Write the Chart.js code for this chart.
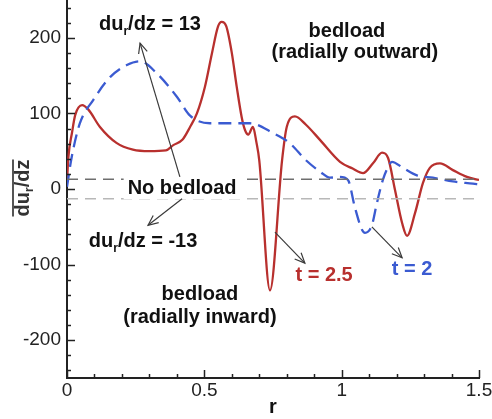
<!DOCTYPE html>
<html><head><meta charset="utf-8">
<script src="https://cdn.jsdelivr.net/npm/chart.js@4"></script>
<style>html,body{margin:0;padding:0;background:#fff}#wrap{width:492px;height:419px;position:relative}</style>
</head><body><div id="wrap"><canvas id="c" width="492" height="419"></canvas></div>
<script>
// ---- data ----
const rT25 = [0, 0.005, 0.018, 0.03, 0.055, 0.078, 0.12, 0.18, 0.24, 0.3, 0.36, 0.387, 0.42, 0.448, 0.473, 0.502, 0.528, 0.55, 0.563, 0.58, 0.6, 0.618, 0.636, 0.648, 0.66, 0.677, 0.69, 0.70, 0.739, 0.783, 0.80, 0.83, 0.87, 0.921, 0.994, 1.04, 1.078, 1.114, 1.147, 1.169, 1.194, 1.22, 1.238, 1.267, 1.296, 1.321, 1.358, 1.405, 1.456, 1.5];
const vT25 = [9, 42, 74, 98, 111, 105, 82, 61, 52, 50, 51, 58, 65, 82, 100, 135, 180, 215, 221, 215, 180, 135, 95, 78, 72, 82, 61, 38, -134, 38, 82, 96, 85, 65, 36, 27, 21, 34, 48, 41, -1, -45, -62, -32, 8, 28, 34, 25, 16, 12];
const rT2 = [0, 0.017, 0.047, 0.096, 0.157, 0.218, 0.265, 0.327, 0.4, 0.448, 0.52, 0.6, 0.666, 0.75, 0.81, 0.87, 0.921, 0.957, 0.994, 1.023, 1.048, 1.074, 1.085, 1.11, 1.128, 1.15, 1.169, 1.183, 1.223, 1.274, 1.332, 1.405, 1.478, 1.5];
const vT2 = [3, 42, 87, 118, 148, 164, 169, 153, 122, 97, 87, 87, 87, 74, 61, 38, 23, 15, 16, 12, -24, -54, -58, -48, -19, 12, 29, 36, 28, 18, 15, 10, 7, 6];
const thresholdValues = [13, -13];
const xTickValues = [0, 0.5, 1, 1.5];
const yTickValues = [-200, -100, 0, 100, 200];
const xLimits = [0, 1.5];
const yLimits = [-250, 250];
const seriesLabels = ['t = 2.5', 't = 2'];

const toPts = (xs, ys) => xs.map((x, i) => ({x: x, y: ys[i]}));
const RED = '#b8302e', BLUE = '#3b5bd1';
const FONT = "'Liberation Sans', Arial, sans-serif";

function drawRich(ctx, segs, cx, cy, size, color, bg) {
  const main = 'bold ' + size + 'px ' + FONT;
  const sub = 'bold ' + Math.round(size * 0.62) + 'px ' + FONT;
  let w = 0;
  const ws = segs.map(s => { ctx.font = s[1] ? sub : main; const m = ctx.measureText(s[0]).width; w += m; return m; });
  if (bg) {
    ctx.fillStyle = '#fff';
    ctx.fillRect(cx - w / 2 - 4, cy - size * 0.55, w + 8, size * 1.1);
  }
  ctx.fillStyle = color;
  ctx.textBaseline = 'middle';
  ctx.textAlign = 'left';
  let x = cx - w / 2;
  segs.forEach((s, i) => {
    ctx.font = s[1] ? sub : main;
    ctx.fillText(s[0], x, cy + (s[1] ? size * 0.32 : 0));
    x += ws[i];
  });
  return w;
}
function arrow(ctx, x1, y1, x2, y2) {
  ctx.save();
  ctx.strokeStyle = '#3a3a3a'; ctx.lineWidth = 1.2;
  ctx.beginPath(); ctx.moveTo(x1, y1); ctx.lineTo(x2, y2); ctx.stroke();
  const a = Math.atan2(y2 - y1, x2 - x1), L = 11, s = 0.42;
  ctx.beginPath();
  ctx.moveTo(x2 - L * Math.cos(a - s), y2 - L * Math.sin(a - s));
  ctx.lineTo(x2, y2);
  ctx.lineTo(x2 - L * Math.cos(a + s), y2 - L * Math.sin(a + s));
  ctx.stroke();
  ctx.restore();
}

const decor = {
  id: 'decor',
  afterDraw(chart) {
    const ctx = chart.ctx, xs = chart.scales.x, ys = chart.scales.y;
    const X = v => xs.getPixelForValue(v), Y = v => ys.getPixelForValue(v);
    const a = chart.chartArea;
    ctx.save();
    // inward ticks
    ctx.strokeStyle = '#222'; ctx.lineWidth = 1.5;
    for (let k = -12; k <= 12; k++) {
      const v = k * 20, len = (v % 100 === 0) ? 8 : 4, p = Math.round(Y(v)) + 0.5;
      ctx.beginPath(); ctx.moveTo(a.left, p); ctx.lineTo(a.left + len, p); ctx.stroke();
    }
    for (let k = 0; k <= 15; k++) {
      const v = k / 10, len = (k % 5 === 0) ? 8 : 4, p = Math.round(X(v)) + 0.5;
      ctx.beginPath(); ctx.moveTo(p, a.bottom); ctx.lineTo(p, a.bottom - len); ctx.stroke();
    }
    // annotations
    const S = 20;
    drawRich(ctx, [['du'], ['r', 1], ['/dz = 13']], X(0.302), Y(217), S, '#111');
    drawRich(ctx, [['No bedload']], X(0.419), Y(1), S, '#111', true);
    drawRich(ctx, [['du'], ['r', 1], ['/dz = -13']], X(0.277), Y(-70), S, '#111');
    drawRich(ctx, [['bedload']], X(0.484), Y(-140), S, '#111');
    drawRich(ctx, [['(radially inward)']], X(0.484), Y(-170), S, '#111');
    drawRich(ctx, [['bedload']], X(1.019), Y(208), S, '#111');
    drawRich(ctx, [['(radially outward)']], X(1.048), Y(181), S, '#111');
    drawRich(ctx, [[seriesLabels[0]]], X(0.936), Y(-114), S, RED);
    drawRich(ctx, [[seriesLabels[1]]], X(1.256), Y(-107), S, BLUE);
    arrow(ctx, X(0.411), Y(16), X(0.266), Y(193));
    arrow(ctx, X(0.419), Y(-13), X(0.295), Y(-48));
    arrow(ctx, X(0.757), Y(-57), X(0.866), Y(-98));
    arrow(ctx, X(1.11), Y(-50), X(1.22), Y(-91));
    // x title
    ctx.font = 'bold 20px ' + FONT; ctx.fillStyle = '#111'; ctx.textAlign = 'center'; ctx.textBaseline = 'middle';
    ctx.fillText('r', (a.left + a.right) / 2, 407);
    // y title (rotated, with overline)
    ctx.translate(23, (a.top + a.bottom) / 2 - 1);
    ctx.rotate(-Math.PI / 2);
    const w = drawRich(ctx, [['du'], ['r', 1], ['/dz']], 0, 0, 20, '#333');
    ctx.strokeStyle = '#555'; ctx.lineWidth = 2;
    ctx.beginPath(); ctx.moveTo(-w / 2, -10); ctx.lineTo(w / 2, -10); ctx.stroke();
    ctx.restore();
  }
};

const tickFont = {family: FONT, size: 19};
new Chart(document.getElementById('c'), {
  type: 'scatter',
  data: {
    datasets: [
      {data: toPts(xLimits, [thresholdValues[0], thresholdValues[0]]), showLine: true, borderColor: '#6e6e6e', borderWidth: 1.5, borderDash: [11, 7], pointRadius: 0},
      {data: toPts(xLimits, [thresholdValues[1], thresholdValues[1]]), showLine: true, borderColor: '#b8b8b8', borderWidth: 1.5, borderDash: [11, 7], pointRadius: 0},
      {label: seriesLabels[1], data: toPts(rT2, vT2), showLine: true, borderColor: BLUE, borderWidth: 2.3, borderDash: [13, 7], pointRadius: 0, cubicInterpolationMode: 'monotone'},
      {label: seriesLabels[0], data: toPts(rT25, vT25), showLine: true, borderColor: RED, borderWidth: 2.3, pointRadius: 0, cubicInterpolationMode: 'monotone'}
    ]
  },
  options: {
    responsive: false, animation: false,
    layout: {padding: {left: 0, right: 13, top: 0, bottom: 0}},
    plugins: {legend: {display: false}, tooltip: {enabled: false}},
    scales: {
      x: {
        type: 'linear', min: xLimits[0], max: xLimits[1],
        afterBuildTicks: s => { s.ticks = xTickValues.map(v => ({value: v})); },
        ticks: {font: tickFont, color: '#222', padding: 1, maxRotation: 0, autoSkip: false, callback: v => String(v)},
        grid: {display: false, drawTicks: false},
        border: {display: true, color: '#222', width: 2},
        afterFit: s => { s.height = 41; s.paddingLeft = 0; s.paddingRight = 0; }
      },
      y: {
        type: 'linear', min: yLimits[0], max: yLimits[1],
        afterBuildTicks: s => { s.ticks = yTickValues.map(v => ({value: v})); },
        ticks: {font: tickFont, color: '#222', padding: 6, autoSkip: false, callback: v => String(v)},
        grid: {display: false, drawTicks: false},
        border: {display: true, color: '#222', width: 2},
        afterFit: s => { s.width = 67; s.paddingTop = 0; s.paddingBottom = 0; }
      }
    }
  },
  plugins: [decor]
});
</script></body></html>
